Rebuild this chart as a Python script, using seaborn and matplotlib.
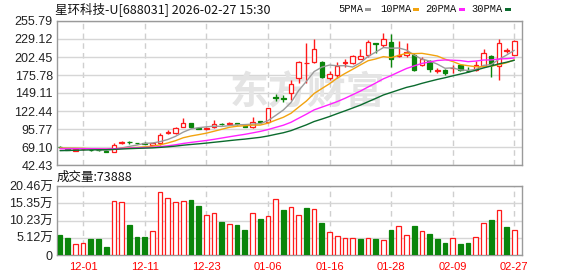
import numpy as np
import pandas as pd
import matplotlib
matplotlib.use("Agg")
import matplotlib.pyplot as plt
from matplotlib.patches import Rectangle
import seaborn as sns

# ---------------- data ----------------
title = "星环科技-U[688031] 2026-02-27 15:30"
dates = ["11-26", "11-27", "11-28", "12-01", "12-02", "12-03", "12-04", "12-05",
         "12-08", "12-09", "12-10", "12-11", "12-12", "12-15", "12-16", "12-17",
         "12-18", "12-19", "12-22", "12-23", "12-24", "12-25", "12-26", "12-29",
         "12-30", "12-31", "01-05", "01-06", "01-07", "01-08", "01-09", "01-12",
         "01-13", "01-14", "01-15", "01-16", "01-19", "01-20", "01-21", "01-22",
         "01-23", "01-26", "01-27", "01-28", "01-29", "01-30", "02-02", "02-03",
         "02-04", "02-05", "02-06", "02-09", "02-10", "02-11", "02-12", "02-13",
         "02-24", "02-25", "02-26", "02-27"]
opens = [69.5, 66.0, 63.5, 65.5, 64.8, 64.3, 63.8, 62.2, 75.5, 76.5,
         75.0, 75.5, 72.5, 74.6, 90.5, 89.5, 99.2, 104.0, 97.5, 95.5,
         98.3, 103.8, 102.8, 104.0, 100.5, 99.2, 107.0, 105.5, 143.0, 141.0,
         148.6, 170.8, 193.0, 195.5, 195.5, 172.0, 176.5, 193.5, 193.5, 200.0,
         205.0, 222.5, 219.5, 224.5, 204.5, 205.0, 205.0, 190.6, 196.0, 182.0,
         183.0, 185.5, 190.5, 182.0, 183.0, 189.0, 204.0, 189.0, 212.0, 205.5]
highs = [69.9, 66.5, 66.2, 67.0, 65.5, 64.6, 64.2, 74.5, 78.5, 78.3,
         75.6, 75.8, 75.0, 90.3, 94.0, 99.0, 112.0, 105.0, 98.5, 99.0,
         109.0, 105.0, 105.5, 105.0, 101.0, 113.0, 108.0, 127.0, 148.0, 146.0,
         168.4, 196.0, 222.7, 228.6, 196.0, 182.0, 195.0, 199.0, 206.0, 214.0,
         227.0, 223.0, 238.0, 236.5, 226.0, 223.0, 209.0, 202.0, 198.0, 186.5,
         184.0, 190.0, 191.0, 187.0, 196.0, 215.0, 205.0, 228.6, 215.5, 227.0]
lows = [68.0, 64.0, 63.0, 65.0, 63.2, 63.5, 61.0, 61.0, 73.5, 73.5,
        73.8, 73.3, 72.0, 72.5, 88.0, 89.0, 98.5, 97.0, 95.5, 95.0,
        97.5, 101.0, 102.0, 101.5, 98.0, 97.0, 104.0, 104.5, 137.0, 136.0,
        138.7, 163.4, 163.4, 193.0, 171.0, 169.0, 171.0, 187.0, 192.0, 199.5,
        203.0, 208.0, 218.0, 188.0, 203.0, 202.0, 182.0, 189.0, 180.0, 178.5,
        176.5, 179.0, 182.0, 180.0, 182.0, 188.0, 173.5, 169.0, 208.0, 205.0]
closes = [68.7, 64.5, 65.7, 66.3, 64.2, 64.0, 61.5, 72.0, 76.5, 75.8,
          74.3, 73.8, 74.5, 86.9, 91.5, 97.7, 105.0, 98.0, 96.5, 97.5,
          103.0, 102.8, 104.0, 102.8, 99.0, 106.6, 105.5, 126.4, 141.5, 139.5,
          162.4, 194.5, 194.0, 213.8, 172.4, 178.0, 189.0, 194.5, 204.0, 203.8,
          225.0, 221.0, 228.6, 199.0, 205.5, 209.5, 183.5, 199.0, 185.0, 182.8,
          178.5, 186.5, 183.5, 181.5, 190.5, 208.0, 192.5, 222.7, 213.0, 225.5]
# closes before the visible window (estimated from where the MA lines start)
prior_closes = [56, 56, 57, 57, 58, 58, 59, 60, 60, 61,
                63, 64, 65, 66, 66, 65, 66, 67, 66, 66,
                67, 66, 67, 68, 67, 66, 67, 68, 69]
volumes_wan = [6.07, 5.18, 3.4, 3.7, 4.6, 4.6, 2.5, 16.0, 15.7, 9.0,
               5.2, 5.2, 7.2, 18.7, 16.9, 15.7, 16.0, 16.4, 14.6, 12.0,
               12.5, 9.9, 9.2, 9.0, 7.5, 12.5, 10.8, 11.7, 16.6, 13.2,
               14.3, 11.9, 13.8, 13.7, 9.6, 6.9, 5.7, 5.1, 5.1, 4.6,
               5.1, 4.6, 4.5, 7.5, 8.6, 6.0, 8.7, 7.2, 6.1, 4.6,
               3.7, 5.1, 3.4, 3.7, 5.4, 9.5, 10.5, 13.4, 8.4, 7.3888]
last_volume = 73888
price_ticks = [42.43, 69.10, 95.77, 122.44, 149.11, 175.78, 202.45, 229.12, 255.79]
vol_ticks = [0, 5.12, 10.23, 15.35, 20.46]
vol_tick_labels = ["0", "5.12万", "10.23万", "15.35万", "20.46万"]
date_tick_labels = ["12-01", "12-11", "12-23", "01-06", "01-16", "01-28", "02-09", "02-27"]
ma_windows = [5, 10, 20, 30]
ma_names = ["5PMA", "10PMA", "20PMA", "30PMA"]
ma_colors = ["#9b9b9b", "#f2a30f", "#ff22ff", "#0b6b2e"]

RED = "#ff1a1a"
GREEN = "#0a850a"

# ---------------- figure ----------------
sns.set_theme(style="white")
plt.rcParams["font.family"] = ["Liberation Sans", "Noto Sans CJK SC", "DejaVu Sans"]

W, H = 578, 276
fig = plt.figure(figsize=(W / 100, H / 100), dpi=100)
fig.patch.set_facecolor("white")

def fx(px):
    return px / W

def fy(py):
    return 1 - py / H

ax = fig.add_axes([fx(57), fy(165), fx(522) - fx(57), fy(21) - fy(165)])
axv = fig.add_axes([fx(57), fy(255), fx(522) - fx(57), fy(186) - fy(255)])

n = len(closes)
x = np.arange(n)
o = np.array(opens); c = np.array(closes); h = np.array(highs); l = np.array(lows)
up = c >= o
cols = np.where(up, RED, GREEN)

# moving averages
all_close = pd.Series(list(prior_closes) + list(closes))
df = pd.DataFrame({"x": x})
for w, name in zip(ma_windows, ma_names):
    df[name] = all_close.rolling(w).mean().iloc[len(prior_closes):].to_numpy()

# watermark
ax.text(0.538, 0.5, "东方财富", transform=ax.transAxes, fontsize=28,
        fontweight="bold", color="#e4e4e4", ha="center", va="center",
        family=["Noto Sans CJK SC"], zorder=1)

# candles
ax.vlines(x, l, h, colors=cols, linewidth=1.0, zorder=2)
body_bottom = np.minimum(o, c)
body_h = np.maximum(np.abs(c - o), 0.8)
ax.bar(x, body_h, bottom=body_bottom, width=0.58,
       color=np.where(up, "white", GREEN), edgecolor=cols, linewidth=0.9, zorder=3)

for name, col in zip(ma_names, ma_colors):
    sns.lineplot(data=df, x="x", y=name, ax=ax, color=col, linewidth=1.0,
                 zorder=4, legend=False)

ax.set_xlim(-0.39, 60.0)
ax.set_ylim(price_ticks[0], price_ticks[-1])
ax.set_yticks(price_ticks)
ax.set_yticklabels([f"{t:.2f}" for t in price_ticks])
tick_idx = [dates.index(d) for d in date_tick_labels]
ax.set_xticks(tick_idx)
ax.set_xticklabels([])
ax.set_xlabel(""); ax.set_ylabel("")

# volume
prev = np.concatenate([[prior_closes[-1]], c[:-1]])
vup = c >= prev
vcols = np.where(vup, RED, GREEN)
axv.bar(x, volumes_wan, width=0.62, color=np.where(vup, "white", GREEN),
        edgecolor=vcols, linewidth=0.9, zorder=3)
axv.set_xlim(-0.39, 60.0)
axv.set_ylim(0, vol_ticks[-1])
axv.set_yticks(vol_ticks)
axv.set_yticklabels(vol_tick_labels)
axv.set_xticks(tick_idx)
axv.set_xticklabels(date_tick_labels)

for a in (ax, axv):
    a.set_facecolor("white")
    a.grid(False)
    a.yaxis.grid(True, color="#d6d6d6", linewidth=1.0, zorder=0)
    a.xaxis.grid(True, color="#cfcfcf", linewidth=1.0, linestyle=(0, (4, 3)), zorder=0)
    a.set_axisbelow(True)
    for s in a.spines.values():
        s.set_color("#9a9a9a")
        s.set_linewidth(1.0)
    a.tick_params(axis="both", length=0)
    a.tick_params(axis="y", pad=3, labelsize=9, labelcolor="#222222")

axv.tick_params(axis="x", pad=5, labelsize=8, labelcolor="#ff0000")

# texts
fig.text(fx(55), fy(9), title, fontsize=9, color="#111111", va="center", ha="left",
         family=["Noto Sans CJK SC", "DejaVu Sans"])
fig.text(fx(57), fy(177.5), f"成交量:{last_volume}", fontsize=9, color="#111111",
         va="center", ha="left", family=["Noto Sans CJK SC", "DejaVu Sans"])

leg_text_x = [338, 380, 425, 471]
leg_mark_x = [365, 413, 459, 505]
for name, col, tx, mx in zip(ma_names, ma_colors, leg_text_x, leg_mark_x):
    fig.text(fx(tx), fy(9.5), name, fontsize=7.5, color="#111111", va="center",
             ha="left", family=["Liberation Mono"])
    fig.add_artist(Rectangle((fx(mx), fy(11)), fx(6), 3 / H, transform=fig.transFigure,
                             facecolor=col, edgecolor="none"))

fig.savefig("out.png", dpi=100, facecolor="white")
